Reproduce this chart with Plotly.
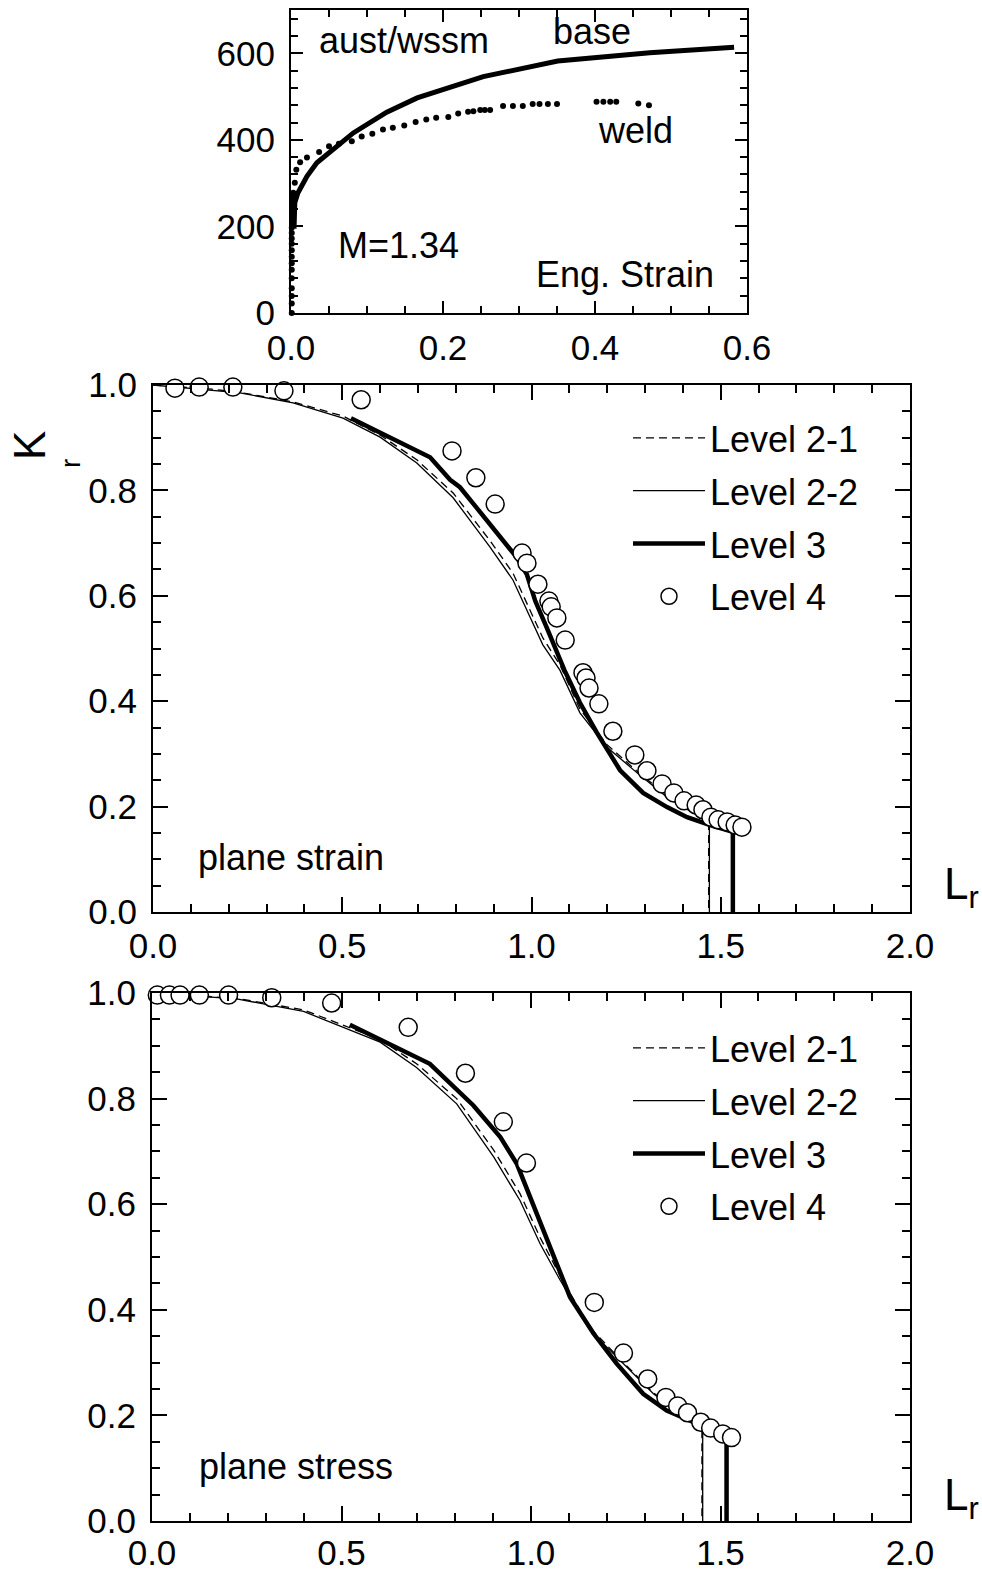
import plotly.graph_objects as go

W, H = 982, 1573
FONT = "Liberation Sans, Arial, sans-serif"

# ---------------- top panel: stress-strain (aust/wssm) ----------------
base_strain = [0.004, 0.004, 0.005, 0.009, 0.021, 0.034, 0.061, 0.082, 0.126, 0.166, 0.253, 0.351, 0.472, 0.583]
base_stress = [195, 230, 255, 277, 316, 347, 385, 416, 464, 497, 546, 582, 601, 614]

weld_strain = [0.001, 0.001, 0.001, 0.001, 0.001, 0.001, 0.001, 0.001, 0.001, 0.001, 0.001,
               0.001, 0.001, 0.002, 0.002, 0.002, 0.002, 0.002, 0.002, 0.003, 0.003,
               0.005, 0.007, 0.012, 0.021, 0.037, 0.050, 0.063, 0.080, 0.093, 0.107,
               0.121, 0.134, 0.149, 0.164, 0.178, 0.191, 0.207, 0.220, 0.233, 0.240,
               0.249, 0.255, 0.262, 0.279, 0.292, 0.305, 0.318, 0.327, 0.338, 0.350,
               0.402, 0.411, 0.420, 0.428, 0.457, 0.471]
weld_stress = [0, 22, 39, 57, 80, 100, 115, 130, 145, 160, 172,
               185, 197, 208, 218, 228, 238, 248, 258, 268, 278,
               301, 331, 348, 359, 372, 385, 391, 397, 408, 414,
               424, 428, 433, 441, 447, 451, 453, 461, 465, 466,
               469, 469, 469, 478, 478, 478, 483, 483, 483, 483,
               488, 488, 488, 488, 484, 480]

# ---------------- middle panel: plane strain ----------------
pe_l21_x = [0.0, 0.156, 0.230, 0.370, 0.502, 0.600, 0.697, 0.793, 0.890, 0.951, 1.030, 1.075, 1.128, 1.199, 1.279, 1.358, 1.427, 1.468, 1.468]
pe_l21_y = [1.0, 0.992, 0.986, 0.968, 0.941, 0.905, 0.858, 0.795, 0.705, 0.643, 0.520, 0.469, 0.385, 0.318, 0.267, 0.221, 0.190, 0.175, 0.0]
pe_l22_x = [0.0, 0.156, 0.230, 0.370, 0.502, 0.600, 0.697, 0.793, 0.890, 0.951, 1.030, 1.075, 1.128, 1.199, 1.279, 1.358, 1.427, 1.470, 1.470]
pe_l22_y = [1.0, 0.990, 0.985, 0.966, 0.937, 0.901, 0.852, 0.786, 0.693, 0.630, 0.507, 0.459, 0.378, 0.313, 0.264, 0.218, 0.188, 0.171, 0.0]
pe_l3_x = [0.523, 0.732, 0.785, 0.811, 0.845, 0.925, 0.962, 0.988, 1.010, 1.040, 1.064, 1.087, 1.128, 1.173, 1.234, 1.295, 1.358, 1.411, 1.472, 1.532, 1.532]
pe_l3_y = [0.937, 0.863, 0.820, 0.806, 0.776, 0.706, 0.672, 0.640, 0.590, 0.540, 0.500, 0.459, 0.397, 0.340, 0.269, 0.226, 0.199, 0.180, 0.165, 0.152, 0.0]
pe_l4_x = [0.058, 0.122, 0.211, 0.346, 0.550, 0.790, 0.853, 0.904, 0.975, 0.988, 1.017, 1.046, 1.052, 1.067, 1.089,
           1.136, 1.144, 1.152, 1.178, 1.215, 1.273, 1.305, 1.345, 1.376, 1.403, 1.435, 1.453, 1.474, 1.493, 1.517,
           1.538, 1.556]
pe_l4_y = [0.994, 0.996, 0.996, 0.989, 0.972, 0.875, 0.824, 0.774, 0.681, 0.662, 0.622, 0.590, 0.579, 0.558, 0.516,
           0.454, 0.444, 0.425, 0.395, 0.343, 0.298, 0.268, 0.243, 0.226, 0.211, 0.203, 0.194, 0.180, 0.175, 0.171,
           0.165, 0.161]

# ---------------- bottom panel: plane stress ----------------
ps_l21_x = [0.0, 0.223, 0.400, 0.602, 0.698, 0.804, 0.902, 0.971, 1.024, 1.077, 1.156, 1.244, 1.323, 1.394, 1.451, 1.451]
ps_l21_y = [1.0, 0.990, 0.968, 0.912, 0.866, 0.800, 0.702, 0.620, 0.537, 0.464, 0.366, 0.300, 0.243, 0.205, 0.189, 0.0]
ps_l22_x = [0.0, 0.223, 0.400, 0.602, 0.698, 0.804, 0.902, 0.971, 1.024, 1.077, 1.156, 1.244, 1.323, 1.394, 1.453, 1.453]
ps_l22_y = [1.0, 0.989, 0.965, 0.907, 0.859, 0.790, 0.689, 0.607, 0.525, 0.456, 0.361, 0.298, 0.241, 0.203, 0.187, 0.0]
ps_l3_x = [0.522, 0.733, 0.848, 0.919, 0.963, 0.993, 1.011, 1.046, 1.103, 1.165, 1.226, 1.296, 1.358, 1.429, 1.516, 1.516]
ps_l3_y = [0.940, 0.866, 0.787, 0.727, 0.676, 0.622, 0.594, 0.530, 0.424, 0.355, 0.298, 0.241, 0.209, 0.187, 0.165, 0.0]
ps_l4_x = [0.014, 0.046, 0.074, 0.125, 0.202, 0.316, 0.474, 0.676, 0.827, 0.927, 0.988, 1.167, 1.244, 1.308, 1.356,
           1.387, 1.413, 1.448, 1.474, 1.506, 1.529]
ps_l4_y = [0.996, 0.996, 0.996, 0.996, 0.996, 0.991, 0.981, 0.935, 0.848, 0.756, 0.678, 0.414, 0.318, 0.269, 0.234,
           0.218, 0.205, 0.187, 0.176, 0.165, 0.158]

level_names = ["Level 2-1", "Level 2-2", "Level 3", "Level 4"]

fig = go.Figure()

# top panel traces
fig.add_trace(go.Scatter(x=base_strain, y=base_stress, mode="lines", line=dict(color="black", width=5),
                         xaxis="x", yaxis="y", showlegend=False, cliponaxis=False))
fig.add_trace(go.Scatter(x=weld_strain, y=weld_stress, mode="markers", marker=dict(color="black", size=6),
                         xaxis="x", yaxis="y", showlegend=False, cliponaxis=False))


def add_panel(xa, ya, leg, l21x, l21y, l22x, l22y, l3x, l3y, l4x, l4y):
    common = dict(xaxis=xa, yaxis=ya, legend=leg)
    fig.add_trace(go.Scatter(x=l21x, y=l21y, mode="lines", name=level_names[0], legendgroup=leg + "a",
                             line=dict(color="black", width=1.3, dash="8px,5px"), **common))
    fig.add_trace(go.Scatter(x=l22x, y=l22y, mode="lines", name=level_names[1], legendgroup=leg + "b",
                             line=dict(color="black", width=1.3), **common))
    fig.add_trace(go.Scatter(x=l3x, y=l3y, mode="lines", name=level_names[2], legendgroup=leg + "c",
                             line=dict(color="black", width=4.5), **common))
    fig.add_trace(go.Scatter(x=l4x, y=l4y, mode="markers", name=level_names[3], legendgroup=leg + "d",
                             marker=dict(symbol="circle", size=18, color="white",
                                         line=dict(color="black", width=1.5)),
                             cliponaxis=False, **common))


add_panel("x2", "y2", "legend", pe_l21_x, pe_l21_y, pe_l22_x, pe_l22_y, pe_l3_x, pe_l3_y, pe_l4_x, pe_l4_y)
add_panel("x3", "y3", "legend2", ps_l21_x, ps_l21_y, ps_l22_x, ps_l22_y, ps_l3_x, ps_l3_y, ps_l4_x, ps_l4_y)


def axis(domain, rng, dtick, mdtick, tlen, mlen, fmt, anchor, standoff):
    return dict(domain=domain, range=rng, dtick=dtick, tick0=0, tickformat=fmt,
                showline=True, linecolor="black", linewidth=2, mirror="allticks",
                ticks="inside", ticklen=tlen, tickwidth=2, tickcolor="black",
                minor=dict(ticks="inside", ticklen=mlen, tickwidth=2, tickcolor="black",
                           dtick=mdtick, showgrid=False),
                showgrid=False, zeroline=False, anchor=anchor, automargin=False,
                tickfont=dict(size=35, color="black", family=FONT),
                ticklabelstandoff=standoff)


def px_x(p):
    return p / W


def px_y(p):
    return 1 - p / H


fig.update_layout(
    width=W, height=H,
    margin=dict(l=0, r=0, t=0, b=0, pad=0, autoexpand=False),
    paper_bgcolor="white", plot_bgcolor="white",
    font=dict(family=FONT, size=36, color="black"),
    xaxis=axis([px_x(291), px_x(747)], [0, 0.6], 0.2, 0.05, 12, 7, ".1f", "y", 3),
    yaxis=axis([px_y(313), px_y(10)], [0, 700], 200, 40, 12, 7, "d", "x", 7),
    xaxis2=axis([px_x(153), px_x(910)], [0, 2], 0.5, 0.1, 15, 8, ".1f", "y2", 2),
    yaxis2=axis([px_y(912), px_y(385)], [0, 1], 0.2, 0.05, 15, 8, ".1f", "x2", 7),
    xaxis3=axis([px_x(152), px_x(910)], [0, 2], 0.5, 0.1, 15, 8, ".1f", "y3", 0),
    yaxis3=axis([px_y(1521), px_y(993)], [0, 1], 0.2, 0.05, 15, 8, ".1f", "x3", 7),
    legend=dict(x=px_x(628), y=px_y(408), xanchor="left", yanchor="top",
                font=dict(size=36, family=FONT, color="black"), itemwidth=72,
                bgcolor="rgba(0,0,0,0)", borderwidth=0, tracegroupgap=3),
    legend2=dict(x=px_x(628), y=px_y(1018), xanchor="left", yanchor="top",
                 font=dict(size=36, family=FONT, color="black"), itemwidth=72,
                 bgcolor="rgba(0,0,0,0)", borderwidth=0, tracegroupgap=3),
)

ann_font = dict(size=36, family=FONT, color="black")
annotations = [
    dict(text="aust/wssm", x=0.149, y=630, xref="x", yref="y"),
    dict(text="base", x=0.396, y=651, xref="x", yref="y"),
    dict(text="weld", x=0.453, y=421, xref="x", yref="y"),
    dict(text="M=1.34", x=0.142, y=155, xref="x", yref="y"),
    dict(text="Eng. Strain", x=0.44, y=90, xref="x", yref="y"),
    dict(text="plane strain", x=0.365, y=0.104, xref="x2", yref="y2"),
    dict(text="plane stress", x=0.38, y=0.104, xref="x3", yref="y3"),
]
for a in annotations:
    a.update(showarrow=False, font=ann_font, xanchor="center", yanchor="middle")
    fig.add_annotation(**a)

# axis labels
fig.add_annotation(text="K", x=px_x(30), y=px_y(446), xref="paper", yref="paper", showarrow=False,
                   textangle=-90, font=dict(size=44, family=FONT, color="black"),
                   xanchor="center", yanchor="middle")
fig.add_annotation(text="r", x=px_x(71), y=px_y(464), xref="paper", yref="paper", showarrow=False,
                   textangle=-90, font=dict(size=28, family=FONT, color="black"),
                   xanchor="center", yanchor="middle")
for yc in (887, 1498):
    fig.add_annotation(text="L<sub>r</sub>", x=px_x(942), y=px_y(yc), xref="paper", yref="paper",
                       showarrow=False, font=dict(size=44, family=FONT, color="black"),
                       xanchor="left", yanchor="middle")

fig.write_html("out.html", config={"displayModeBar": False},
               post_script="document.body.style.margin='0';document.body.style.overflow='hidden';")
